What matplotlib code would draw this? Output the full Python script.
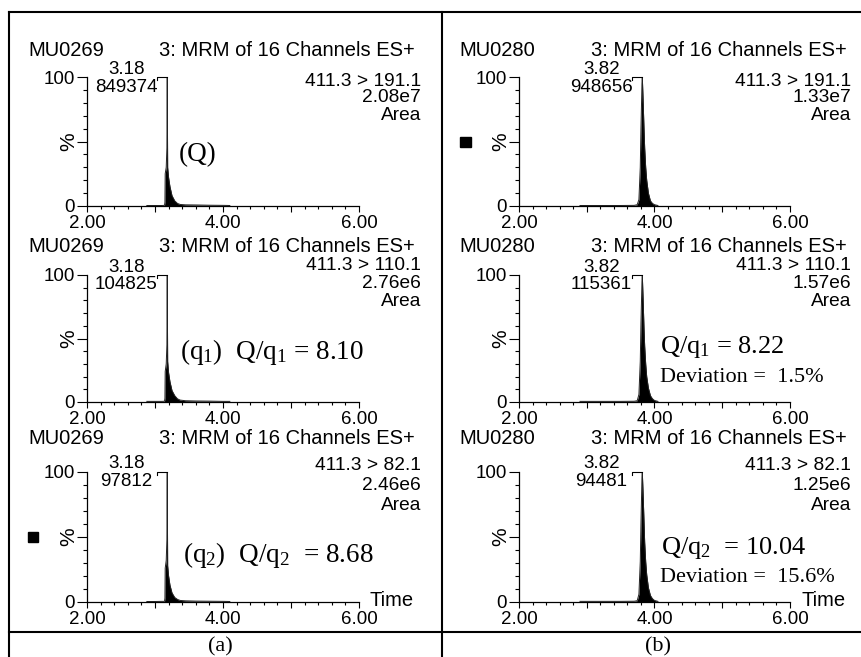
import numpy as np
import matplotlib.pyplot as plt
import matplotlib.transforms as mtransforms
from matplotlib.patches import Rectangle
from matplotlib.lines import Line2D

W, H = 861, 657
DPI = 100
plt.rcParams['font.family'] = 'Liberation Sans'
SERIF = 'Liberation Serif'

# ---- data ----
samples = ["MU0269", "MU0280"]
scan_title = "3: MRM of 16 Channels ES+"
transitions = ["411.3 > 191.1", "411.3 > 110.1", "411.3 > 82.1"]
areas = [["2.08e7", "2.76e6", "2.46e6"],
         ["1.33e7", "1.57e6", "1.25e6"]]
peak_rt = [3.18, 3.82]
peak_counts = [[849374, 104825, 97812],
               [948656, 115361, 94481]]

# traces (time in min, % of base peak)
time_a = [2.88, 3.00, 3.10, 3.140, 3.146, 3.150, 3.165, 3.175, 3.180, 3.186,
          3.20, 3.22, 3.25, 3.29, 3.33, 3.37, 3.45, 3.60, 3.80, 4.00, 4.10]
q_a = [0.4, 0.4, 0.4, 0.5, 3, 25, 30, 45, 100, 30,
       22, 15, 8, 4, 2, 1.2, 0.9, 0.8, 0.6, 0.5, 0.4]
q1_a = [0.5, 0.5, 0.5, 0.6, 3, 24, 30, 45, 100, 32,
        23, 16, 9, 5, 2.5, 1.5, 1.0, 0.8, 0.7, 0.5, 0.5]
q2_a = [0.4, 0.4, 0.5, 0.5, 3, 26, 32, 48, 100, 28,
        20, 13, 7, 3.5, 2, 1.2, 0.9, 0.7, 0.6, 0.5, 0.4]

time_b = [2.90, 3.20, 3.50, 3.70, 3.745, 3.77, 3.79, 3.80, 3.815, 3.82,
          3.83, 3.845, 3.855, 3.87, 3.885, 3.91, 3.94, 3.97, 4.00, 4.05]
q_b = [0.4, 0.4, 0.4, 0.5, 1, 5, 30, 60, 95, 100,
       85, 60, 45, 30, 20, 10, 4, 2, 1, 0.4]
q1_b = [0.5, 0.5, 0.5, 0.6, 1, 6, 32, 62, 95, 100,
        84, 58, 44, 30, 20, 11, 5, 2.5, 1.2, 0.5]
q2_b = [0.5, 0.5, 0.5, 0.6, 1, 6, 31, 60, 96, 100,
        86, 62, 46, 31, 21, 11, 5, 2.5, 1.2, 0.5]

traces = [(time_a, [q_a, q1_a, q2_a]), (time_b, [q_b, q1_b, q2_b])]

notes = [
    [[(r"(Q)", 198, 155, 19.5, 'center')],
     [(r"($\mathregular{q_1}$)  Q/$\mathregular{q_1}$ = 8.10", 180, 352, 19.5, 'left')],
     [(r"($\mathregular{q_2}$)  Q/$\mathregular{q_2}$  = 8.68", 183, 555, 19.5, 'left')]],
    [[],
     [(r"Q/$\mathregular{q_1}$ = 8.22", 660, 347, 19, 'left'),
      ("Deviation =  1.5%", 660, 378, 16, 'left')],
     [(r"Q/$\mathregular{q_2}$  = 10.04", 661, 548, 19, 'left'),
      ("Deviation =  15.6%", 660, 578, 16, 'left')]],
]

# ---- layout (pixels) ----
col_x = [87, 519]
col_w = [272, 271]
row_y = [(77, 206), (275, 402), (472, 602)]
head_y = [50, 247, 438]
line_y = [[81, 98, 115], [266, 284, 302], [465, 485, 506]]
head_left = [28, 459]
head_right = [415, 847]
line_right = [421, 851]


def fx(x):
    return x / W


def fy(y):
    return 1 - y / H


fig = plt.figure(figsize=(W / DPI, H / DPI), dpi=DPI)

for c in range(2):
    t, series = traces[c]
    for r in range(3):
        y100, y0 = row_y[r]
        ax = fig.add_axes([fx(col_x[c]), fy(y0), col_w[c] / W, (y0 - y100) / H])
        v = series[r]
        ax.fill_between(t, 0, v, color='black', lw=0)
        ax.plot(t, v, color='#222222', lw=0.7)
        ax.set_xlim(2, 6)
        ax.set_ylim(0, 100)
        for s in ['top', 'right']:
            ax.spines[s].set_visible(False)
        for s in ['left', 'bottom']:
            ax.spines[s].set_linewidth(0.9)
        ax.set_xticks([2, 3, 4, 5, 6], ['2.00', '', '4.00', '', '6.00'])
        ax.set_xticks(np.arange(2, 6.01, 0.2), minor=True)
        ax.set_yticks([0, 50, 100], ['0', '', '100'])
        ax.set_yticks(np.arange(0, 101, 10), minor=True)
        ax.tick_params(axis='x', which='major', length=4.3, width=0.8, pad=2.5, labelsize=13.5)
        ax.tick_params(axis='x', which='minor', length=2.2, width=0.8)
        ax.tick_params(axis='y', which='major', length=7, width=0.8, pad=1.5, labelsize=13.5)
        ax.tick_params(axis='y', which='minor', length=3, width=0.8)
        ax.set_ylabel('%', fontsize=15)
        ax.yaxis.set_label_coords(-9 / col_w[c], 0.5)

        # peak apex bracket and label
        rt = peak_rt[c]
        dx = 4 * 10 / col_w[c]
        dy = 100 * 3 / (y0 - y100)
        ax.plot([rt - dx, rt - dx, rt], [100 - dy, 100, 100], color='black', lw=0.8, clip_on=False)
        tr_up = mtransforms.offset_copy(ax.transData, fig=fig, x=-41, y=8, units='dots')
        tr_dn = mtransforms.offset_copy(ax.transData, fig=fig, x=-41, y=-10, units='dots')
        ax.text(rt, 100, f"{rt:.2f}", transform=tr_up, ha='center', va='center', fontsize=13.5)
        ax.text(rt, 100, str(peak_counts[c][r]), transform=tr_dn, ha='center', va='center', fontsize=13.5)

        if r == 2:
            tr_t = mtransforms.offset_copy(ax.transAxes, fig=fig, x=11, y=1, units='dots')
            ax.text(1, 0, 'Time', transform=tr_t, ha='left', va='center', fontsize=14.5)

        # header block
        fig.text(fx(head_left[c]), fy(head_y[r]), samples[c], ha='left', va='center', fontsize=14.5)
        fig.text(fx(head_right[c]), fy(head_y[r]), scan_title, ha='right', va='center', fontsize=14.5)
        for txt, yy in zip([transitions[r], areas[c][r], 'Area'], line_y[r]):
            fig.text(fx(line_right[c]), fy(yy), txt, ha='right', va='center', fontsize=13.8)

        for txt, xx, yy, fs, ha in notes[c][r]:
            fig.text(fx(xx), fy(yy), txt, ha=ha, va='center', fontsize=fs, family=SERIF)

# marker squares
fig.add_artist(Rectangle((fx(460), fy(147)), 11 / W, 10 / H, transform=fig.transFigure,
                         color='black'))
fig.add_artist(Rectangle((fx(28), fy(542)), 10 / W, 10 / H, transform=fig.transFigure,
                         color='black'))

# frame lines
frame = [([9, W], [12, 12]), ([9, 9], [12, H]), ([442, 442], [12, H]), ([9, W], [632, 632])]
for xs, ys in frame:
    fig.add_artist(Line2D([fx(x) for x in xs], [fy(y) for y in ys], color='black', lw=1.5))

fig.text(fx(220), fy(647), '(a)', ha='center', va='center', fontsize=16, family=SERIF)
fig.text(fx(658), fy(647), '(b)', ha='center', va='center', fontsize=16, family=SERIF)

fig.savefig('out.png', dpi=DPI)
